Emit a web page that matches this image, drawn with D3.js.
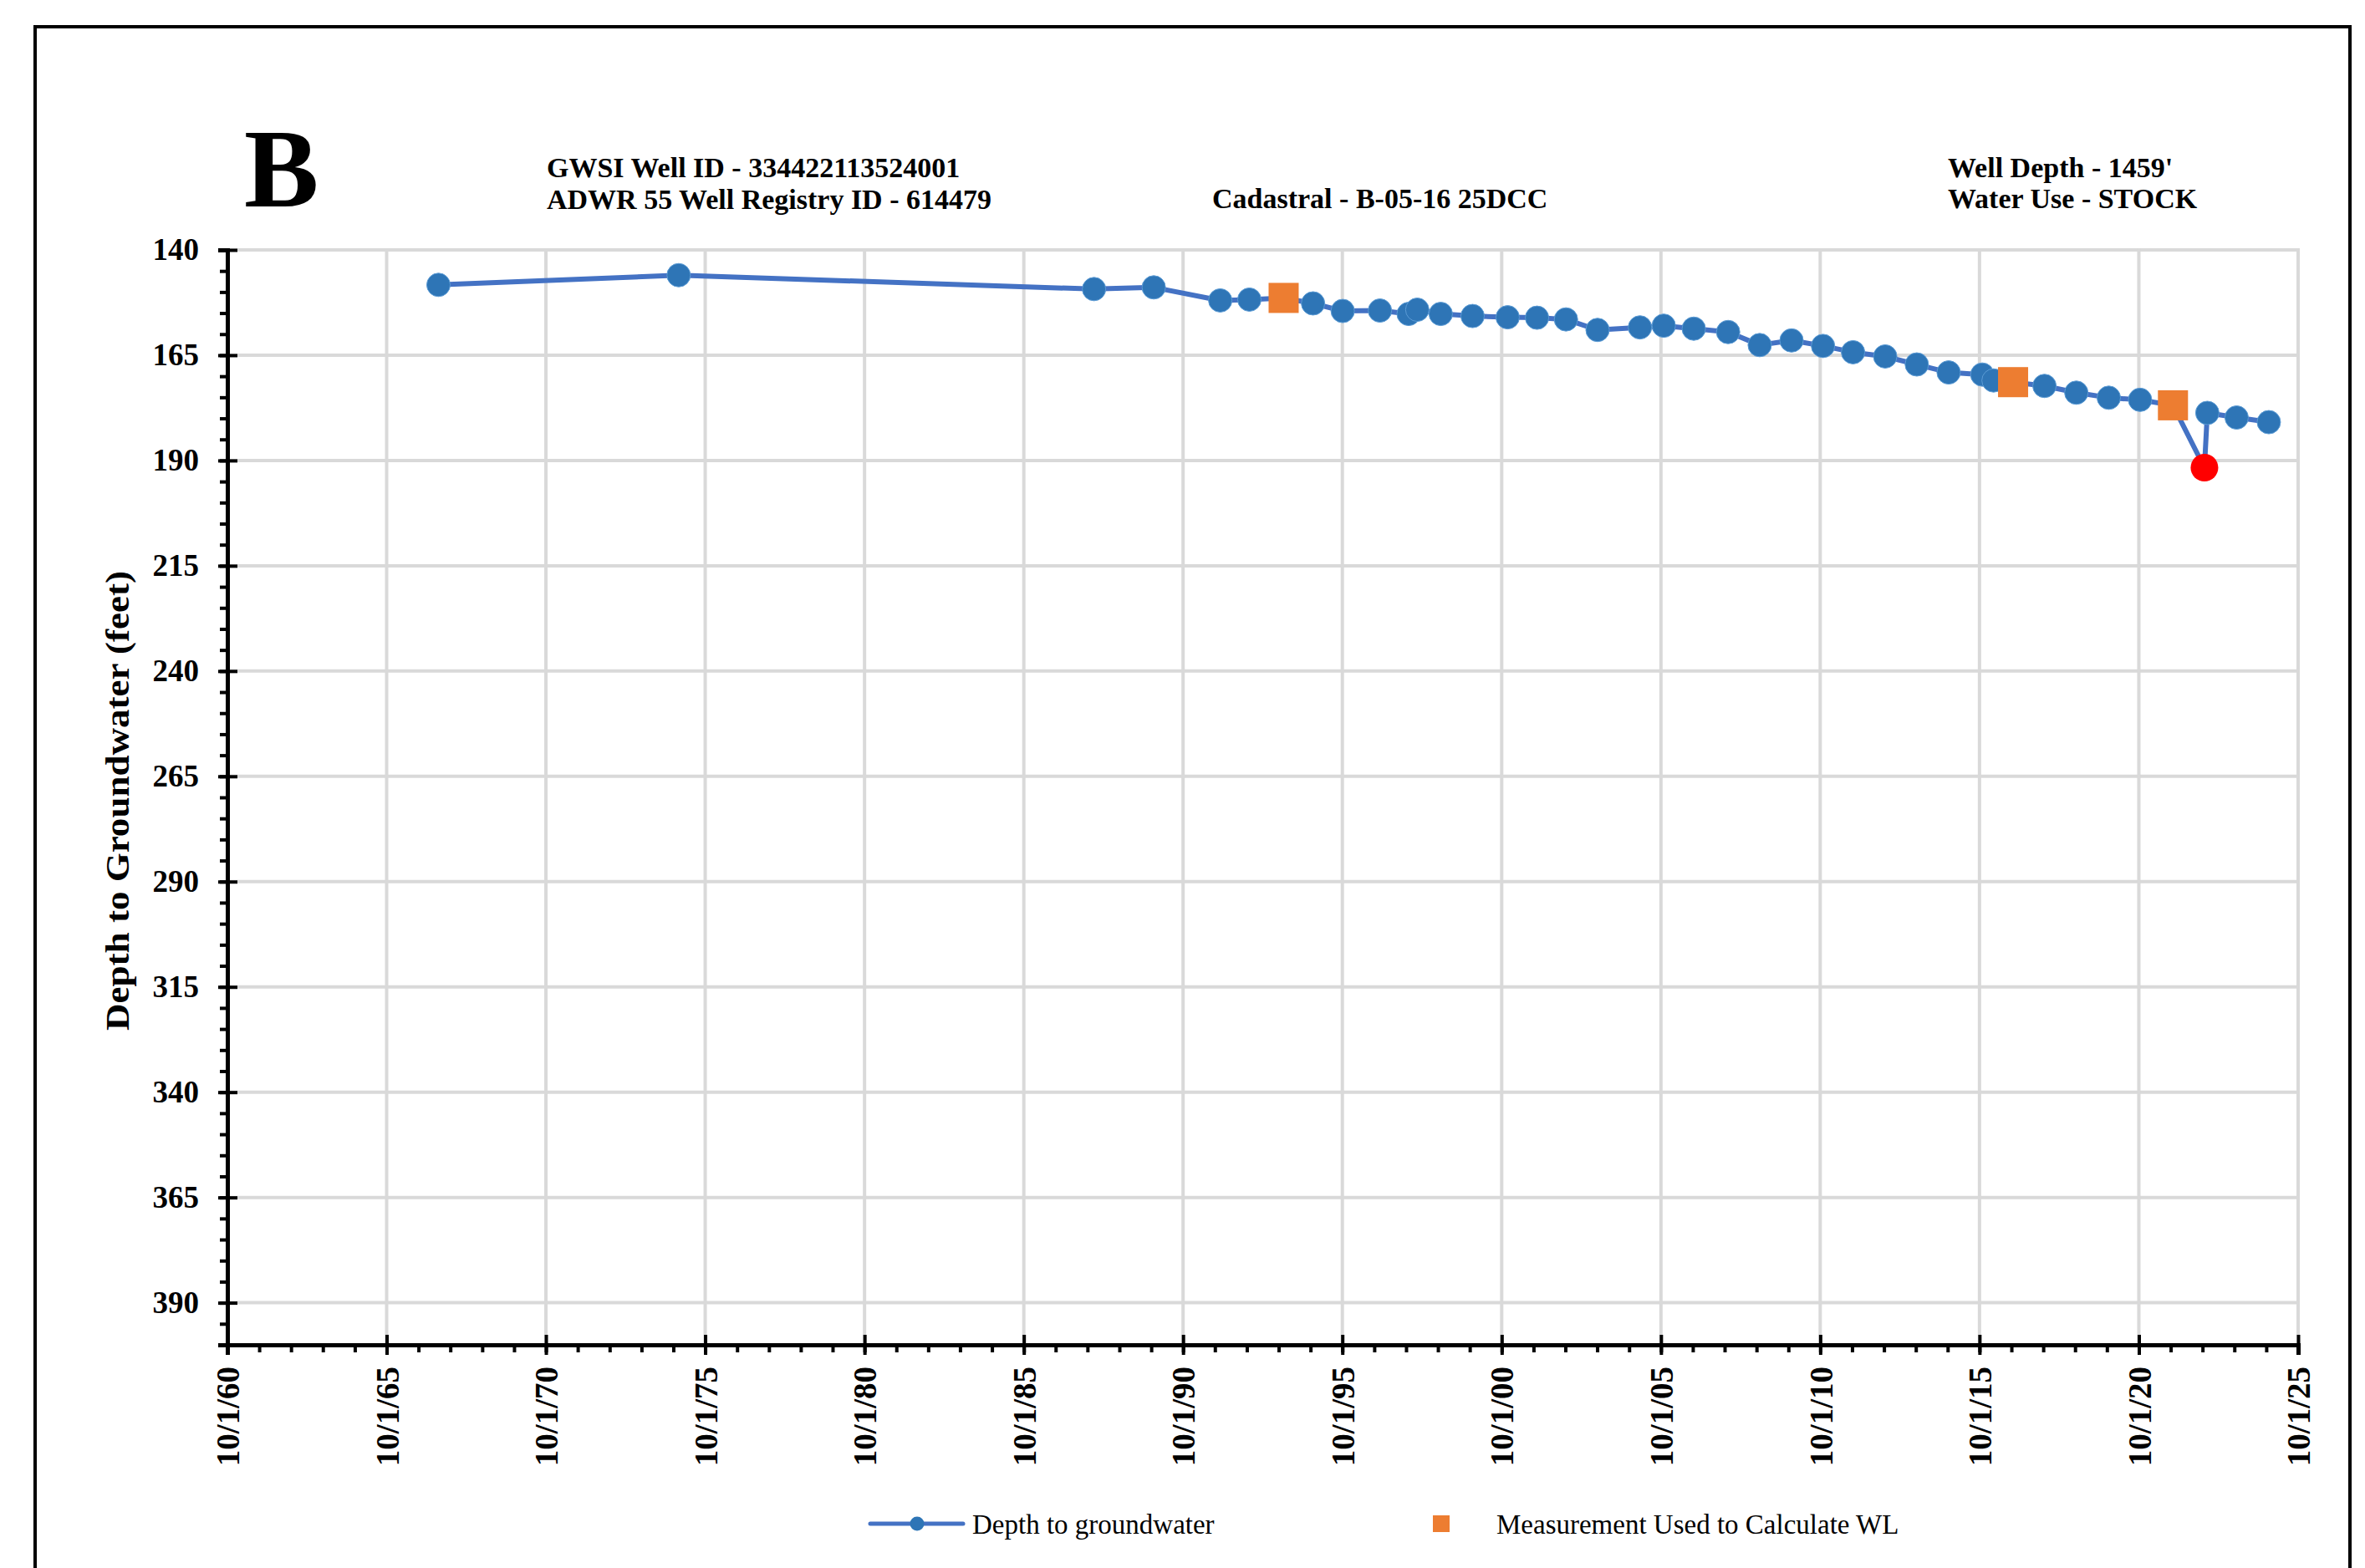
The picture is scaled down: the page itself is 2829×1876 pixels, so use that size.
<!DOCTYPE html>
<html>
<head>
<meta charset="utf-8">
<script src="https://cdn.jsdelivr.net/npm/d3@7"></script>
<style>
	body { margin: 0; background: #fff; }
	text { font-family: "Liberation Serif", "Times New Roman", serif; }
</style>
</head>
<body>
<div id="chart-area"></div>
<script>
// Data
const dates = ["1967-05-18", "1974-12-01", "1987-12-15", "1989-10-30", "1991-12-01", "1992-10-30",
	"1993-11-27", "1994-10-30", "1995-10-05", "1996-12-05", "1997-10-30", "1998-02-06", "1998-11-02",
	"1999-11-02", "2000-12-08", "2001-11-10", "2002-10-08", "2003-10-05", "2005-02-02", "2005-11-02",
	"2006-10-12", "2007-11-10", "2008-11-06", "2009-11-06", "2010-11-02", "2011-10-12", "2012-10-15",
	"2013-10-12", "2014-10-12", "2015-11-02", "2016-03-10", "2016-10-20", "2017-10-15", "2018-10-15",
	"2019-10-22", "2020-10-15", "2021-10-27", "2022-10-23", "2022-11-25", "2023-10-27", "2024-10-30"]
const depths = [148.3, 146.0, 149.3, 148.9, 152.0, 151.8,
	151.4, 152.7, 154.5, 154.4, 155.2, 154.2, 155.2,
	155.7, 156.0, 156.1, 156.5, 159.0, 158.4, 158.0,
	158.7, 159.5, 162.6, 161.5, 162.8, 164.3, 165.3,
	167.2, 169.1, 169.6, 171.0, 171.4, 172.3, 173.9,
	175.1, 175.6, 176.9, 191.7, 178.7, 179.8, 180.9]

// measurements used to calculate WL
const usedDates = ["1993-11-27", "2016-10-20", "2021-10-27"]
const usedDepths = [151.4, 171.4, 176.9]

// flagged (red) measurement
const flagDates = ["2022-10-23"]
const flagDepths = [191.7]

const xTickYears = [1960, 1965, 1970, 1975, 1980, 1985, 1990, 1995, 2000, 2005, 2010, 2015, 2020, 2025]
const xTickLabels = ["10/1/60", "10/1/65", "10/1/70", "10/1/75", "10/1/80", "10/1/85", "10/1/90",
	"10/1/95", "10/1/00", "10/1/05", "10/1/10", "10/1/15", "10/1/20", "10/1/25"]
const yTicks = [140, 165, 190, 215, 240, 265, 290, 315, 340, 365, 390]

// Canvas
const W = 2829, H = 1876
const plot = { left: 272, right: 2749, top: 299, bottom: 1609 }

const svg = d3.select("#chart-area")
	.append("svg")
	.attr("width", W)
	.attr("height", H)

svg.append("rect").attr("width", W).attr("height", H).attr("fill", "#fff")

// outer frame
svg.append("rect")
	.attr("x", 42).attr("y", 32)
	.attr("width", 2811 - 42).attr("height", H)
	.attr("fill", "none")
	.attr("stroke", "#000")
	.attr("stroke-width", 4)

const parseDate = d3.timeParse("%Y-%m-%d")
const oct1 = (yr) => new Date(yr, 9, 1)

// Scales
const x = d3.scaleTime()
	.domain([oct1(1960), oct1(2025)])
	.range([plot.left, plot.right])
const y = d3.scaleLinear()
	.domain([140, 400])
	.range([plot.top, plot.bottom])

// Gridlines
const grid = svg.append("g").attr("stroke", "#d9d9d9").attr("stroke-width", 4)
grid.selectAll(".hgrid").data(yTicks).enter().append("line")
	.attr("x1", plot.left).attr("x2", plot.right)
	.attr("y1", d => y(d)).attr("y2", d => y(d))
grid.selectAll(".vgrid").data(xTickYears.slice(1)).enter().append("line")
	.attr("x1", d => x(oct1(d))).attr("x2", d => x(oct1(d)))
	.attr("y1", plot.top - 2).attr("y2", plot.bottom)

// Y axis
const yMinor = svg.append("g")
	.attr("transform", `translate(${plot.left}, 0)`)
	.call(d3.axisLeft(y).tickValues(d3.range(140, 401, 5)).tickSize(9).tickFormat(""))
const yAxis = svg.append("g")
	.attr("transform", `translate(${plot.left}, 0)`)
	.call(d3.axisLeft(y).tickValues(yTicks).tickSize(11).tickPadding(23))
yAxis.selectAll(".tick line").attr("x1", 12)
yAxis.selectAll("text")
	.attr("font-size", "37px")
	.attr("font-weight", "bold")
	.attr("fill", "#000")
	.attr("font-family", "Liberation Serif")

// X axis
const xMinor = svg.append("g")
	.attr("transform", `translate(0, ${plot.bottom})`)
	.call(d3.axisBottom(x).tickValues(d3.range(1960, 2026).map(oct1)).tickSize(9).tickFormat(""))
const xAxis = svg.append("g")
	.attr("transform", `translate(0, ${plot.bottom})`)
	.call(d3.axisBottom(x)
		.tickValues(xTickYears.map(oct1))
		.tickSize(12)
		.tickFormat((d, i) => xTickLabels[i]))
xAxis.selectAll(".tick line").attr("y1", -12)
xAxis.selectAll("text")
	.attr("font-size", "39px")
	.attr("font-weight", "bold")
	.attr("fill", "#000")
	.attr("font-family", "Liberation Serif")
	.attr("text-anchor", "end")
	.attr("y", 0)
	.attr("dy", "0.35em")
	.attr("transform", "translate(0, 26) rotate(-90)")

for (const ax of [yMinor, yAxis, xMinor, xAxis]) {
	ax.selectAll("line").attr("stroke", "#000").attr("stroke-width", 4)
	ax.select(".domain").attr("stroke", "#000").attr("stroke-width", 5)
}

// Y axis label
svg.append("text")
	.attr("transform", `translate(${154}, ${958}) rotate(-90)`)
	.attr("text-anchor", "middle")
	.attr("font-size", "41px")
	.attr("font-weight", "bold")
	.attr("textLength", 550)
	.attr("lengthAdjust", "spacingAndGlyphs")
	.text("Depth to Groundwater (feet)")

// Series line
const series = dates.map((d, i) => ({ date: parseDate(d), depth: depths[i] }))
const line = d3.line()
	.x(d => x(d.date))
	.y(d => y(d.depth))

svg.append("path")
	.attr("d", line(series))
	.attr("fill", "none")
	.attr("stroke", "#4472c4")
	.attr("stroke-width", 6)
	.attr("stroke-linejoin", "round")

svg.selectAll(".dot").data(series).enter().append("circle")
	.attr("cx", d => x(d.date))
	.attr("cy", d => y(d.depth))
	.attr("r", 14)
	.attr("fill", "#2e75b6")
	.attr("stroke", "#5b9bd5")
	.attr("stroke-width", 1)

// Used measurements
svg.selectAll(".used").data(usedDates).enter().append("rect")
	.attr("x", (d, i) => x(parseDate(d)) - 18)
	.attr("y", (d, i) => y(usedDepths[i]) - 18)
	.attr("width", 36)
	.attr("height", 36)
	.attr("fill", "#ed7d31")

// Flagged measurement
svg.selectAll(".flag").data(flagDates).enter().append("circle")
	.attr("cx", d => x(parseDate(d)))
	.attr("cy", (d, i) => y(flagDepths[i]))
	.attr("r", 16.5)
	.attr("fill", "#ff0000")

// Header
svg.append("text")
	.attr("x", 292).attr("y", 247)
	.attr("font-size", "134px")
	.attr("font-weight", "bold")
	.text("B")

const header = [
	{ x: 654, y: 212, t: "GWSI Well ID - 334422113524001" },
	{ x: 654, y: 250, t: "ADWR 55 Well Registry ID - 614479" },
	{ x: 1450, y: 249, t: "Cadastral - B-05-16 25DCC" },
	{ x: 2330, y: 212, t: "Well Depth - 1459'" },
	{ x: 2330, y: 249, t: "Water Use - STOCK" }
]
svg.selectAll(".hdr").data(header).enter().append("text")
	.attr("x", d => d.x).attr("y", d => d.y)
	.attr("font-size", "34px")
	.attr("font-weight", "bold")
	.text(d => d.t)

// Legend
const legend = svg.append("g")
legend.append("line")
	.attr("x1", 1041).attr("x2", 1152)
	.attr("y1", 1823).attr("y2", 1823)
	.attr("stroke", "#4472c4")
	.attr("stroke-width", 5)
	.attr("stroke-linecap", "round")
legend.append("circle")
	.attr("cx", 1097).attr("cy", 1823).attr("r", 8.5)
	.attr("fill", "#2e75b6")
legend.append("text")
	.attr("x", 1163).attr("y", 1835)
	.attr("font-size", "33px")
	.text("Depth to groundwater")
legend.append("rect")
	.attr("x", 1714).attr("y", 1813)
	.attr("width", 20).attr("height", 20)
	.attr("fill", "#ed7d31")
legend.append("text")
	.attr("x", 1790).attr("y", 1835)
	.attr("font-size", "33px")
	.text("Measurement Used to Calculate WL")
</script>
</body>
</html>
